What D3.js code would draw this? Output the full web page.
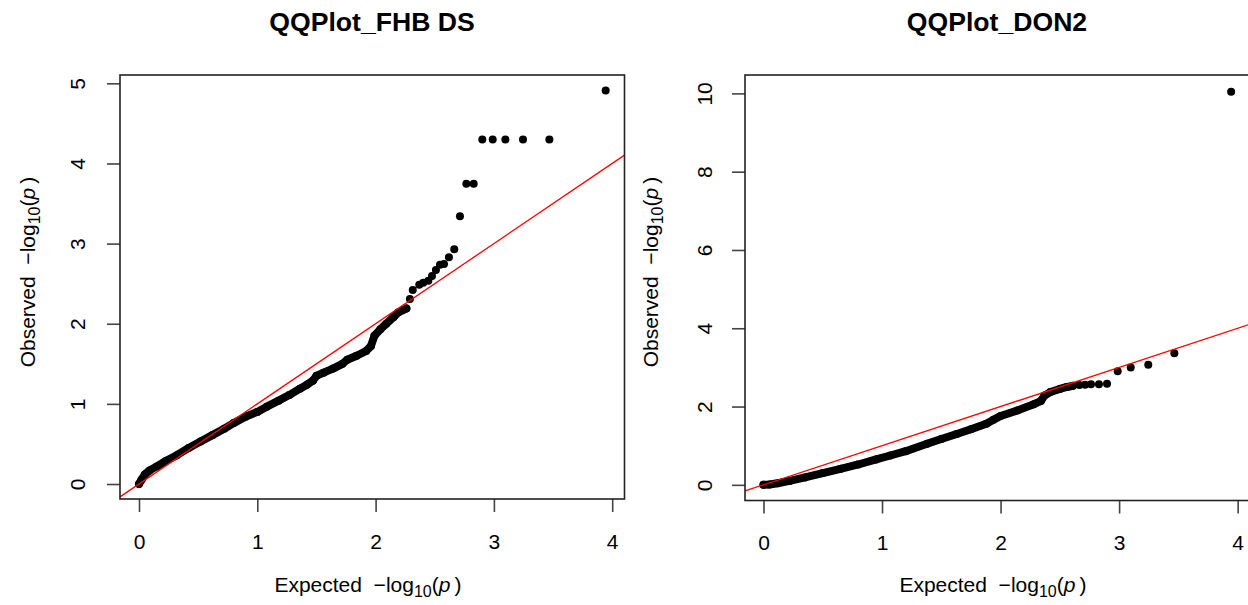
<!DOCTYPE html>
<html>
<head>
<meta charset="utf-8">
<script src="https://d3js.org/d3.v7.min.js"></script>
<style>
body{margin:0;background:#fff;}
svg{display:block;font-family:'Liberation Sans',Arial,sans-serif;}
</style>
</head>
<body>
<svg id="chart" width="1248" height="605"></svg>
<script>
// values: [expected, observed]
// FHB DS - the dense part that looks like a thick band
const fhbBand = [
    [0.00,0.00],[0.02,0.05],[0.05,0.12],[0.09,0.17],[0.15,0.22],[0.23,0.29],[0.32,0.36],
    [0.42,0.45],[0.52,0.53],[0.62,0.61],[0.72,0.69],[0.80,0.76],[0.90,0.84],[1.00,0.90],
    [1.08,0.965],[1.18,1.04],[1.27,1.11],[1.36,1.19],[1.42,1.24],[1.47,1.29],[1.50,1.35],
    [1.56,1.39],[1.64,1.44],[1.72,1.50],[1.76,1.55],[1.84,1.60],[1.92,1.66],[1.96,1.72],
    [1.99,1.85],[2.04,1.93],[2.09,2.00],[2.15,2.08],[2.19,2.14],[2.23,2.17],[2.26,2.19]
];
// FHB DS - single points at the top end
const fhbTail = [
    [2.29,2.31],[2.314,2.42],[2.369,2.487],[2.403,2.512],[2.446,2.537],[2.477,2.595],
    [2.51,2.67],[2.544,2.737],[2.578,2.745],[2.62,2.83],[2.665,2.93],[2.713,3.34],
    [2.767,3.747],[2.829,3.747],[2.902,4.30],[2.990,4.30],[3.097,4.30],[3.246,4.30],
    [3.469,4.30],[3.945,4.91]
];
// DON2
const donBand = [
    [0.00,0.00],[0.05,0.01],[0.12,0.04],[0.22,0.10],[0.35,0.19],[0.50,0.30],[0.65,0.41],
    [0.80,0.52],[0.95,0.65],[1.07,0.75],[1.20,0.86],[1.38,1.05],[1.50,1.17],[1.63,1.30],
    [1.75,1.42],[1.88,1.56],[1.94,1.66],[2.00,1.76],[2.14,1.90],[2.28,2.06],[2.34,2.14],
    [2.37,2.28],[2.42,2.37],[2.50,2.45],[2.56,2.50],[2.61,2.53]
];
const donTail = [
    [2.665,2.55],[2.713,2.56],[2.763,2.57],[2.83,2.57],[2.898,2.58],[2.988,2.90],
    [3.098,3.00],[3.246,3.07],[3.466,3.36],[3.945,10.04]
];

const fhbXTicks = [0,1,2,3,4];
const fhbYTicks = [0,1,2,3,4,5];
const donXTicks = [0,1,2,3,4];
const donYTicks = [0,2,4,6,8,10];

class QQPlot{
    constructor(config, band, tail){
        this.config = config;
        this.band = band;
        this.tail = tail;
        this.init();
    }

    init(){
        const c = this.config;
        this.svg = d3.select('#chart');
        this.g = this.svg.append('g');

        this.xScale = d3.scaleLinear().domain(c.xDomain).range([c.left, c.right]);
        this.yScale = d3.scaleLinear().domain(c.yDomain).range([c.bottom, c.top]);
    }

    mathLabel(sel, word){
        sel.append('tspan').text(word + '\u00a0\u00a0\u2212log');
        sel.append('tspan').attr('font-size', 16).attr('dy', 5).text('10');
        sel.append('tspan').attr('dy', -5).text('(');
        sel.append('tspan').attr('font-style', 'italic').text('p');
        sel.append('tspan').text('\u2009)');
    }

    render(){
        const c = this.config;
        const x = this.xScale, y = this.yScale;

        // title
        this.g.append('text')
            .attr('x', c.titleX).attr('y', 31)
            .attr('text-anchor', 'middle')
            .attr('font-size', 26.6).attr('font-weight', 'bold')
            .text(c.title);

        // x axis
        const xAxis = this.g.append('g')
            .attr('transform', `translate(0,${c.bottom})`)
            .call(d3.axisBottom(x).tickValues(c.xTicks).tickSize(13).tickFormat(d3.format('d')));
        xAxis.select('.domain').remove();
        xAxis.selectAll('line').attr('stroke', '#444').attr('stroke-width', 1.6);
        xAxis.selectAll('text')
            .attr('y', c.xLabelY - c.bottom).attr('dy', null)
            .attr('font-size', 21).attr('fill', '#000')
            .attr('font-family', "'Liberation Sans',Arial,sans-serif");

        // y axis, labels turned like R does
        const yAxis = this.g.append('g')
            .attr('transform', `translate(${c.left},0)`)
            .call(d3.axisLeft(y).tickValues(c.yTicks).tickSize(13).tickFormat(d3.format('d')));
        yAxis.select('.domain').remove();
        yAxis.selectAll('line').attr('stroke', '#444').attr('stroke-width', 1.6);
        yAxis.selectAll('text')
            .attr('x', 0).attr('y', -c.yLabelGap).attr('dy', null)
            .attr('transform', 'rotate(-90)')
            .attr('text-anchor', 'middle')
            .attr('font-size', 21).attr('fill', '#000')
            .attr('font-family', "'Liberation Sans',Arial,sans-serif");

        // axis titles
        const xt = this.g.append('text')
            .attr('x', c.xTitleX).attr('y', 592)
            .attr('text-anchor', 'middle').attr('font-size', 21);
        this.mathLabel(xt, 'Expected');

        const yt = this.g.append('text')
            .attr('transform', `translate(${c.yTitleX},272) rotate(-90)`)
            .attr('text-anchor', 'middle').attr('font-size', 21);
        this.mathLabel(yt, 'Observed');

        // points
        const line = d3.line().x(d => x(d[0])).y(d => y(d[1]));
        this.g.append('path')
            .attr('d', line(this.band))
            .attr('fill', 'none')
            .attr('stroke', '#000')
            .attr('stroke-width', 8)
            .attr('stroke-linejoin', 'round')
            .attr('stroke-linecap', 'round');

        this.g.selectAll('circle.pt')
            .data(this.band.concat(this.tail))
            .enter()
            .append('circle')
            .attr('class', 'pt')
            .attr('cx', d => x(d[0]))
            .attr('cy', d => y(d[1]))
            .attr('r', 4)
            .attr('fill', '#000');

        // y = x reference line
        const lo = Math.max(c.xDomain[0], c.yDomain[0]);
        const hi = Math.min(c.xDomain[1], c.yDomain[1]);
        this.g.append('line')
            .attr('x1', x(lo)).attr('y1', y(lo))
            .attr('x2', x(hi)).attr('y2', y(hi))
            .attr('stroke', 'red')
            .attr('stroke-width', 1.3);

        // box
        this.g.append('rect')
            .attr('x', c.left).attr('y', c.top)
            .attr('width', c.right - c.left).attr('height', c.bottom - c.top)
            .attr('fill', 'none')
            .attr('stroke', '#222')
            .attr('stroke-width', 1.6);
    }
}

const fhbPlot = new QQPlot({
    title: 'QQPlot_FHB DS', titleX: 372,
    left: 120, right: 624.5, top: 75, bottom: 499,
    xDomain: [-0.1606, 4.104], yDomain: [-0.187, 5.104],
    xTicks: fhbXTicks, yTicks: fhbYTicks,
    xLabelY: 549, yLabelGap: 35, xTitleX: 368, yTitleX: 35
}, fhbBand, fhbTail);
fhbPlot.render();

const donPlot = new QQPlot({
    title: 'QQPlot_DON2', titleX: 997,
    left: 745, right: 1249.5, top: 75, bottom: 500.5,
    xDomain: [-0.156, 4.10], yDomain: [-0.40, 10.47],
    xTicks: donXTicks, yTicks: donYTicks,
    xLabelY: 550, yLabelGap: 33, xTitleX: 993, yTitleX: 658
}, donBand, donTail);
donPlot.render();
</script>
</body>
</html>
